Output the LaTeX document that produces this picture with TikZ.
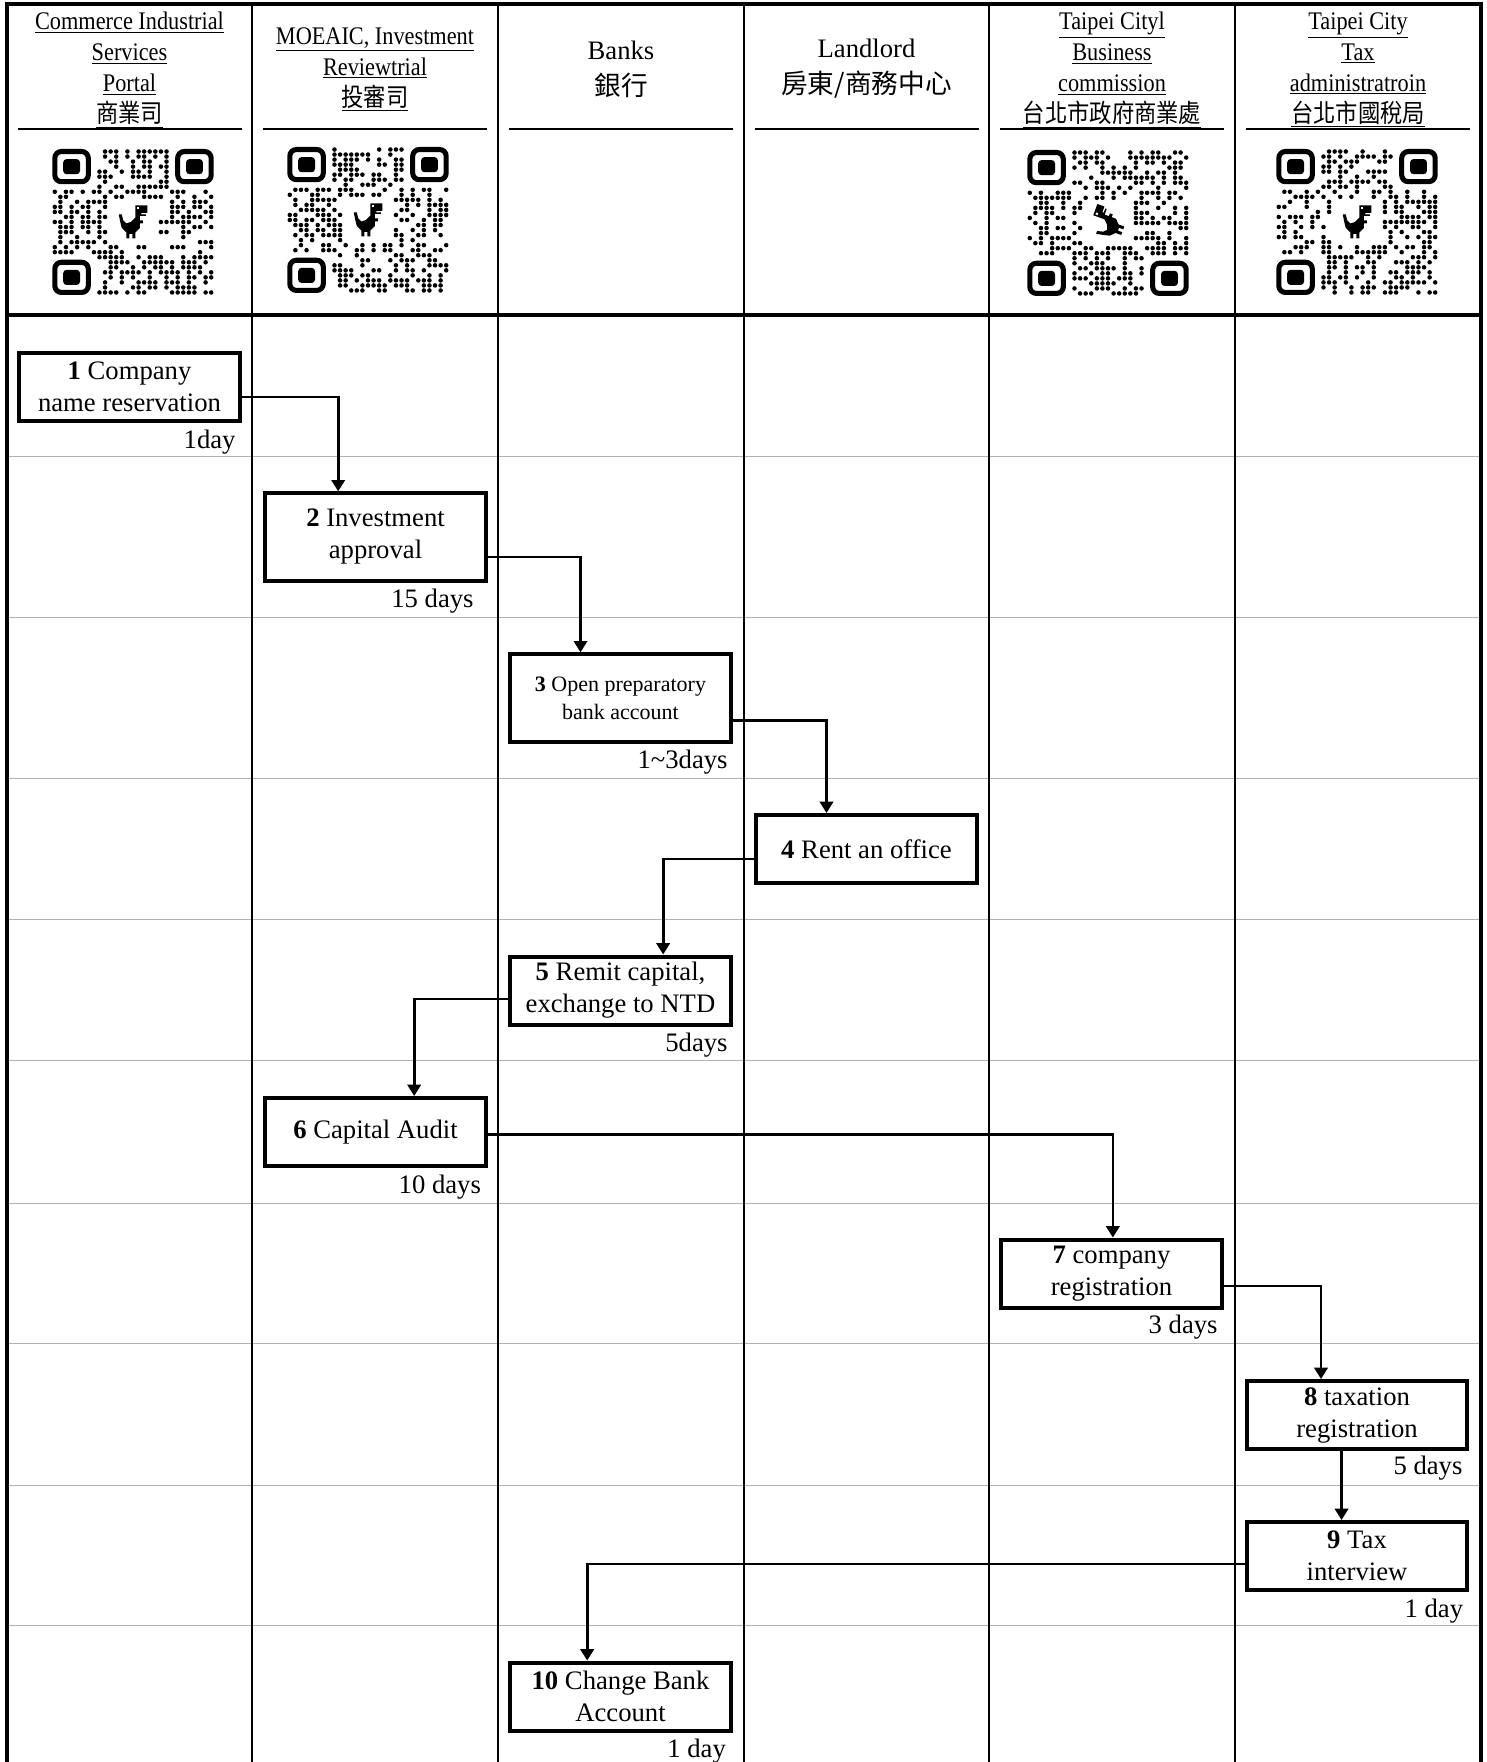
\documentclass[tikz,border=0pt]{standalone}
\usepackage{fontspec}
\setmainfont{Liberation Serif}
\newfontfamily\cond{Liberation Serif}[FakeStretch=0.88]
\newfontfamily\cjk{Noto Sans CJK TC}
\newfontfamily\cjkcond{Noto Sans CJK TC}[FakeStretch=0.88]
\usetikzlibrary{arrows.meta}

\tikzset{
 stepbox/.style={draw, line width=3pt, fill=white, minimum width=165.5pt, minimum height=51pt, inner sep=0pt, align=center, font=\fontsize{20}{24}\selectfont},
 tallbox/.style={stepbox, minimum height=65.5pt},
 dur/.style={anchor=east, inner sep=0pt, font=\fontsize{20}{24}\selectfont},
 conn/.style={line width=2pt, -{Triangle[length=8.5pt,width=10pt]}},
 lane/.style={line width=1.5pt},
 frame/.style={line width=2.6pt},
 rowline/.style={line width=0.75pt, draw=black!30},
 hdline/.style={line width=1.5pt},
 hdlink/.style={align=center, inner sep=0pt, font=\fontsize{19}{23.25}\cond},
 hdplain/.style={align=center, inner sep=0pt, font=\fontsize{20}{27}\selectfont},
}

% stylised QR code: centre x, centre y, seed, variant (0: finders TL,TR,BL; 1: TL,BL,BR), icon rotation
\newcommand\qrfinder[2]{%
  \draw[line width=3.8pt, rounded corners=5pt] (#1*5.586+2.8,#2*5.034+2.5) rectangle ++(33.5,30.2);
  \fill[rounded corners=2.5pt] (#1*5.586+11.2,#2*5.034+10.1) rectangle ++(16.8,15.1);
}
\newcommand\qrdino[1]{%
  \begin{scope}[shift={(81,73)}, rotate=#1, scale=1.5, shift={(-9.5,-11)}]
    \fill (11,0) -- (19,0) -- (19,5) -- (15,5) -- (15,6) -- (18,6) -- (18,7) -- (14,7) -- (14,10) -- (16,10) -- (16,12) -- (14,12) -- (14,15) -- (11,18) -- (11,22) -- (9,22) -- (9,19) -- (7,19) -- (7,22) -- (5,22) -- (5,18) -- (2,15) -- (1,11) -- (0,6) -- (2,6) -- (3,10) -- (5,12) -- (8,11) -- (11,8) -- cycle;
    \fill[white] (12,1.2) rectangle (13.4,2.6);
  \end{scope}
}
\newcommand\qrcode[5]{%
  \begin{scope}[shift={(#1-81,#2-73)}]
    \pgfmathsetseed{#3}
    \foreach \i in {0,...,28}{\foreach \j in {0,...,28}{
      \pgfmathtruncatemacro\qrk{(rnd<0.5) && !( ((\i<8)&&(\j<8)) || ((\i>20)&&(\j<8)&&(#4==0)) || ((\i<8)&&(\j>20)) || ((\i>20)&&(\j>20)&&(#4==1)) || ((\i>9)&&(\i<19)&&(\j>9)&&(\j<19)) )}
      \ifnum\qrk=1 \fill (\i*5.586+2.793,\j*5.034+2.517) circle[radius=1.7pt];\fi
    }}
    \qrfinder{0}{0}
    \qrfinder{0}{22}
    \ifnum#4=0 \qrfinder{22}{0}\else\qrfinder{22}{22}\fi
    \qrdino{#5}
  \end{scope}
}

\begin{document}
\begin{tikzpicture}[x=0.75pt,y=-0.75pt]
\useasboundingbox (0,0) rectangle (1487,1762);
\fill[white] (0,0) rectangle (1487,1762);

% row separators
\foreach \yy in {456,617,778,919,1060,1203,1343,1485,1625}
  \draw[rowline] (7,\yy) -- (1481,\yy);
% lanes
\foreach \xx in {252,498,744,989,1235}
  \draw[lane] (\xx,4) -- (\xx,1762);
\draw[frame] (7,1762) -- (7,4) -- (1481,4) -- (1481,1762);
\draw[frame] (7,315) -- (1481,315);

% header rules
\foreach \xx in {7,252,498,744,989,1235}
  \draw[hdline] (\xx+11,129) -- (\xx+235,129);

% header texts
\node[hdlink] (h1) at (129.5,70) {\underline{Commerce Industrial}\\\underline{Services}\\\underline{Portal}\\\underline{\cjkcond 商業司}};
\node[hdlink] (h2) at (375,69) {\underline{MOEAIC, Investment}\\\underline{Reviewtrial}\\\underline{\cjkcond 投審司}};
\node[hdplain] (h3) at (621,69) {Banks\\{\cjk 銀行}};
\node[hdplain] (h4) at (866.5,69) {Landlord\\{\cjk 房東/商務中心}};
\node[hdlink] (h5) at (1112,70) {\underline{Taipei Cityl}\\\underline{Business}\\\underline{commission}\\\underline{\cjkcond 台北市政府商業處}};
\node[hdlink] (h6) at (1358,70) {\underline{Taipei City}\\\underline{Tax}\\\underline{administratroin}\\\underline{\cjkcond 台北市國稅局}};

% QR codes
\qrcode{133}{222}{11}{0}{0}
\qrcode{368}{220}{23}{0}{0}
\qrcode{1108}{223}{37}{1}{70}
\qrcode{1357}{222}{51}{0}{0}

% step boxes
\node[stepbox] (b1) at (129.5,387) {\textbf{1} Company\\name reservation};
\node[tallbox] (b2) at (375.5,537) {\textbf{2} Investment\\approval};
\node[tallbox, font=\fontsize{16.5}{21}\selectfont] (b3) at (620.5,698) {\textbf{3} Open preparatory\\bank account};
\node[stepbox] (b4) at (866.5,849) {\textbf{4} Rent an office};
\node[stepbox] (b5) at (620.5,990.5) {\textbf{5} Remit capital,\\exchange to NTD};
\node[stepbox] (b6) at (375.5,1132) {\textbf{6} Capital Audit};
\node[stepbox] (b7) at (1111.5,1273.5) {\textbf{7} company\\registration};
\node[stepbox] (b8) at (1357,1415) {\textbf{8} taxation\\registration};
\node[stepbox] (b9) at (1357,1556) {\textbf{9} Tax\\interview};
\node[stepbox] (b10) at (620.5,1696.5) {\textbf{10} Change Bank\\Account};

% durations
\node[dur] (d1) at ([xshift=-4.5pt,yshift=-14pt]b1.south east) {1day};
\node[dur] (d2) at ([xshift=-10.5pt,yshift=-14pt]b2.south east) {15 days};
\node[dur] (d3) at ([xshift=-3.75pt,yshift=-14pt]b3.south east) {1\textasciitilde3days};
\node[dur] (d5) at ([xshift=-3.75pt,yshift=-14pt]b5.south east) {5days};
\node[dur] (d6) at ([xshift=-5pt,yshift=-14pt]b6.south east) {10 days};
\node[dur] (d7) at ([xshift=-4.5pt,yshift=-13pt]b7.south east) {3 days};
\node[dur] (d8) at ([xshift=-5pt,yshift=-13pt]b8.south east) {5 days};
\node[dur] (d9) at ([xshift=-4.5pt,yshift=-14pt]b9.south east) {1 day};
\node[dur] (d10) at ([xshift=-5pt,yshift=-14pt]b10.south east) {1 day};

% connectors
\draw[conn] ([yshift=-7.5pt]b1.east) -| ([xshift=-28pt]b2.north);
\draw[conn] ([yshift=-15pt]b2.east) -| ([xshift=-30pt]b3.north);
\draw[conn] ([yshift=-17pt]b3.east) -| ([xshift=-30pt]b4.north);
\draw[conn] ([yshift=-7.5pt]b4.west) -| ([xshift=32pt]b5.north);
\draw[conn] ([yshift=-6.4pt]b5.west) -| ([xshift=29pt]b6.north);
\draw[conn] ([yshift=-2pt]b6.east) -| ([xshift=1pt]b7.north);
\draw[conn] ([yshift=-9.4pt]b7.east) -| ([xshift=-27pt]b8.north);
\draw[conn] ([xshift=-11.6pt]b8.south) -- ([xshift=-11.6pt]b9.north);
\draw[conn] ([yshift=-6pt]b9.west) -| ([xshift=-25pt]b10.north);
\end{tikzpicture}
\end{document}
